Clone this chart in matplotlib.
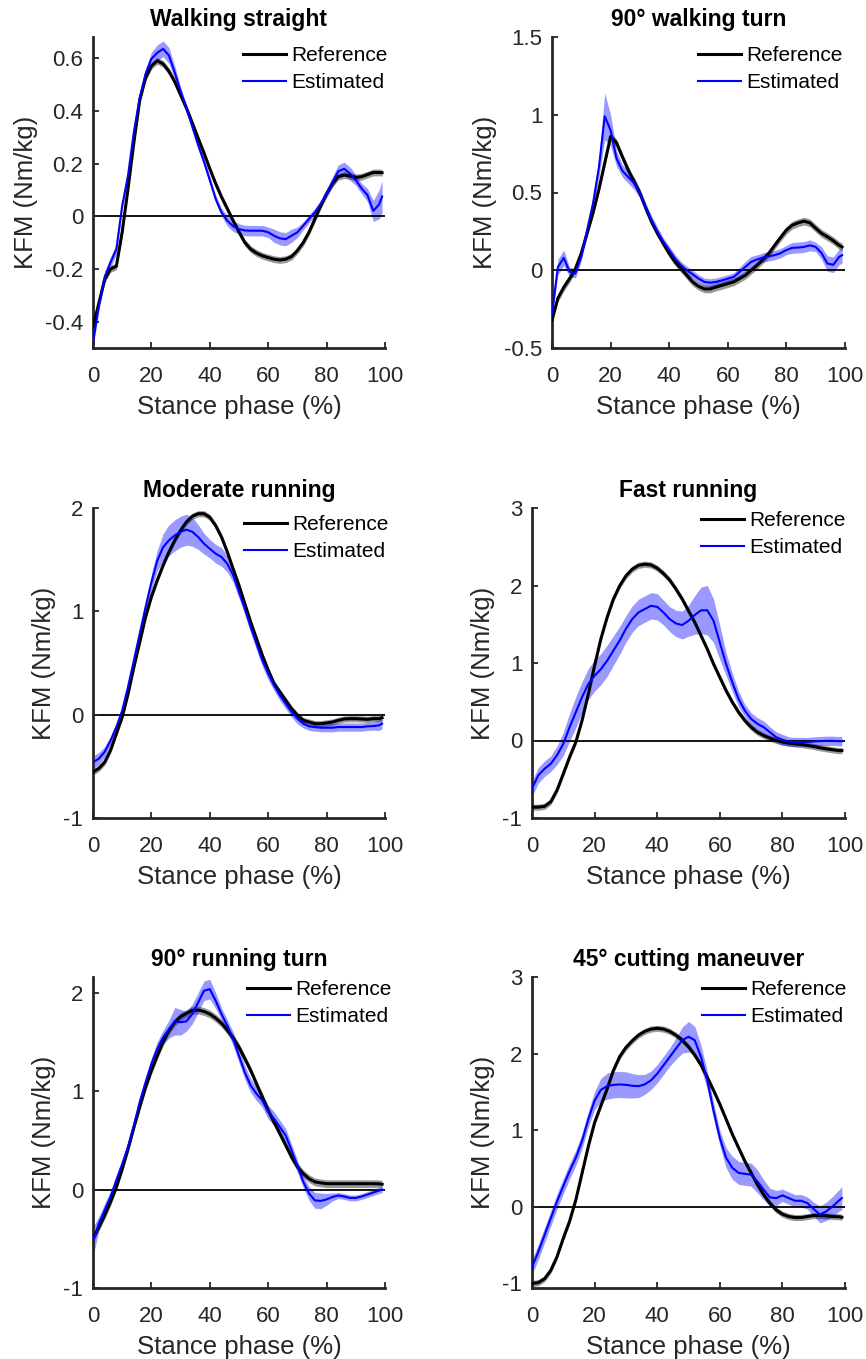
import numpy as np
import matplotlib
matplotlib.use("Agg")
import matplotlib.pyplot as plt

plt.rcParams['font.family'] = ['Liberation Sans', 'DejaVu Sans']
plt.rcParams['axes.unicode_minus'] = False

# stance phase sample points (%)
stance = np.append(np.arange(0, 100, 2), 99)

titles = ["Walking straight", "90° walking turn", "Moderate running",
          "Fast running", "90° running turn", "45° cutting maneuver"]

# --- Walking straight
walk_ref = [-0.42, -0.33, -0.24, -0.20, -0.19, -0.06, 0.105, 0.28, 0.44, 0.525,
            0.57, 0.59, 0.578, 0.55, 0.51, 0.46, 0.41, 0.354, 0.296, 0.24,
            0.18, 0.124, 0.073, 0.028, -0.017, -0.06, -0.10, -0.125, -0.14, -0.15,
            -0.157, -0.163, -0.166, -0.163, -0.153, -0.13, -0.10, -0.06, -0.01, 0.04,
            0.086, 0.124, 0.15, 0.156, 0.153, 0.147, 0.15, 0.158, 0.166, 0.166, 0.165]
walk_ref_sd = 0.013
walk_est = [-0.48, -0.34, -0.23, -0.175, -0.125, 0.04, 0.155, 0.32, 0.45, 0.54,
            0.597, 0.62, 0.635, 0.61, 0.545, 0.475, 0.41, 0.34, 0.27, 0.207,
            0.137, 0.066, 0.015, -0.017, -0.038, -0.049, -0.054, -0.055, -0.055, -0.055,
            -0.061, -0.074, -0.084, -0.087, -0.074, -0.061, -0.036, -0.01, 0.015, 0.047,
            0.086, 0.13, 0.17, 0.18, 0.162, 0.137, 0.105, 0.08, 0.02, 0.045, 0.075]
walk_est_sd = [0.02, 0.02, 0.02, 0.02, 0.02, 0.015, 0.015, 0.015, 0.015, 0.02,
               0.025, 0.03, 0.03, 0.03, 0.025, 0.015, 0.015, 0.015, 0.015, 0.015,
               0.015, 0.015, 0.015, 0.02, 0.02, 0.02, 0.02, 0.02, 0.02, 0.02,
               0.02, 0.025, 0.025, 0.025, 0.025, 0.02, 0.015, 0.015, 0.015, 0.015,
               0.015, 0.02, 0.025, 0.025, 0.025, 0.02, 0.02, 0.025, 0.04, 0.055, 0.06]

# --- 90 deg walking turn
wturn_ref = [-0.32, -0.18, -0.11, -0.054, 0.01, 0.11, 0.24, 0.37, 0.52, 0.69,
             0.86, 0.82, 0.73, 0.645, 0.57, 0.495, 0.40, 0.31, 0.237, 0.172,
             0.108, 0.054, 0.011, -0.032, -0.075, -0.103, -0.12, -0.12, -0.108, -0.097,
             -0.086, -0.075, -0.054, -0.032, 0.0, 0.032, 0.069, 0.108, 0.16, 0.21,
             0.258, 0.29, 0.305, 0.316, 0.305, 0.27, 0.237, 0.215, 0.19, 0.16, 0.15]
wturn_ref_sd = 0.025
wturn_est = [-0.28, 0.02, 0.08, -0.01, -0.02, 0.09, 0.26, 0.43, 0.66, 0.99,
             0.90, 0.72, 0.64, 0.60, 0.56, 0.495, 0.40, 0.32, 0.247, 0.183,
             0.13, 0.075, 0.032, 0.0, -0.026, -0.054, -0.075, -0.08, -0.075, -0.065,
             -0.054, -0.043, -0.011, 0.022, 0.054, 0.069, 0.082, 0.09, 0.097, 0.11,
             0.13, 0.144, 0.146, 0.15, 0.16, 0.15, 0.11, 0.043, 0.035, 0.086, 0.097]
wturn_est_sd = [0.03, 0.05, 0.05, 0.03, 0.03, 0.03, 0.03, 0.04, 0.06, 0.15,
                0.10, 0.05, 0.04, 0.04, 0.04, 0.03, 0.03, 0.03, 0.03, 0.025,
                0.025, 0.025, 0.025, 0.025, 0.025, 0.025, 0.025, 0.025, 0.025, 0.025,
                0.025, 0.025, 0.03, 0.035, 0.035, 0.03, 0.03, 0.03, 0.03, 0.03,
                0.03, 0.035, 0.035, 0.035, 0.035, 0.03, 0.04, 0.05, 0.05, 0.05, 0.05]

# --- Moderate running
modrun_ref = [-0.555, -0.52, -0.46, -0.345, -0.184, -0.023, 0.2, 0.46, 0.70, 0.945,
              1.14, 1.30, 1.445, 1.574, 1.687, 1.784, 1.865, 1.92, 1.945, 1.945,
              1.91, 1.83, 1.72, 1.574, 1.41, 1.25, 1.074, 0.897, 0.735, 0.574,
              0.43, 0.30, 0.22, 0.139, 0.058, -0.006, -0.055, -0.071, -0.087, -0.087,
              -0.08, -0.071, -0.055, -0.042, -0.039, -0.039, -0.042, -0.045, -0.039, -0.039, -0.03]
modrun_ref_sd = 0.03
modrun_est = [-0.46, -0.426, -0.36, -0.25, -0.12, 0.04, 0.27, 0.525, 0.784, 1.04,
              1.28, 1.49, 1.62, 1.687, 1.735, 1.77, 1.79, 1.77, 1.72, 1.655,
              1.606, 1.558, 1.526, 1.46, 1.35, 1.187, 1.026, 0.848, 0.687, 0.526,
              0.397, 0.284, 0.187, 0.106, 0.026, -0.039, -0.087, -0.113, -0.12, -0.126,
              -0.126, -0.126, -0.12, -0.12, -0.12, -0.12, -0.12, -0.113, -0.11, -0.103, -0.087]
modrun_est_sd = [0.06, 0.06, 0.05, 0.04, 0.04, 0.04, 0.04, 0.04, 0.05, 0.06,
                 0.08, 0.10, 0.13, 0.15, 0.15, 0.15, 0.15, 0.14, 0.12, 0.10,
                 0.09, 0.09, 0.09, 0.08, 0.07, 0.06, 0.06, 0.06, 0.06, 0.06,
                 0.06, 0.05, 0.05, 0.05, 0.05, 0.05, 0.04, 0.04, 0.04, 0.04,
                 0.04, 0.04, 0.04, 0.04, 0.04, 0.04, 0.04, 0.04, 0.04, 0.05, 0.05]

# --- Fast running
fastrun_ref = [-0.86, -0.86, -0.85, -0.79, -0.64, -0.43, -0.215, -0.02, 0.26, 0.60,
               0.966, 1.31, 1.59, 1.824, 1.996, 2.124, 2.21, 2.26, 2.275, 2.266,
               2.223, 2.155, 2.07, 1.953, 1.824, 1.674, 1.524, 1.352, 1.18, 0.987,
               0.815, 0.644, 0.494, 0.365, 0.258, 0.172, 0.107, 0.064, 0.03, 0.0,
               -0.02, -0.034, -0.043, -0.05, -0.064, -0.077, -0.094, -0.107, -0.12, -0.13, -0.13]
fastrun_ref_sd = 0.04
fastrun_est = [-0.62, -0.45, -0.365, -0.30, -0.19, -0.043, 0.17, 0.365, 0.56, 0.73,
               0.837, 0.92, 1.03, 1.16, 1.29, 1.44, 1.566, 1.652, 1.695, 1.738,
               1.725, 1.652, 1.566, 1.51, 1.49, 1.545, 1.62, 1.68, 1.68, 1.545,
               1.266, 0.987, 0.75, 0.536, 0.386, 0.279, 0.215, 0.172, 0.107, 0.043,
               0.009, -0.013, -0.02, -0.02, -0.02, -0.013, -0.009, -0.004, -0.004, -0.009, -0.009]
fastrun_est_sd = [0.10, 0.10, 0.10, 0.10, 0.12, 0.15, 0.18, 0.20, 0.20, 0.20,
                  0.20, 0.20, 0.20, 0.19, 0.18, 0.17, 0.17, 0.17, 0.17, 0.17,
                  0.17, 0.16, 0.16, 0.17, 0.18, 0.20, 0.25, 0.30, 0.32, 0.28,
                  0.22, 0.15, 0.12, 0.10, 0.08, 0.08, 0.08, 0.08, 0.07, 0.07,
                  0.07, 0.06, 0.06, 0.06, 0.06, 0.06, 0.06, 0.06, 0.06, 0.06, 0.06]

# --- 90 deg running turn
rturn_ref = [-0.50, -0.38, -0.26, -0.125, 0.027, 0.21, 0.415, 0.635, 0.84, 1.04,
             1.21, 1.36, 1.50, 1.615, 1.70, 1.757, 1.79, 1.82, 1.824, 1.81,
             1.784, 1.743, 1.69, 1.62, 1.54, 1.446, 1.33, 1.21, 1.074, 0.94,
             0.804, 0.686, 0.568, 0.45, 0.33, 0.23, 0.162, 0.11, 0.078, 0.068,
             0.06, 0.06, 0.06, 0.06, 0.06, 0.06, 0.06, 0.06, 0.06, 0.058, 0.054]
rturn_ref_sd = 0.04
rturn_est = [-0.53, -0.345, -0.21, -0.074, 0.095, 0.26, 0.43, 0.65, 0.89, 1.09,
             1.277, 1.43, 1.547, 1.63, 1.71, 1.70, 1.71, 1.784, 1.90, 2.02,
             2.037, 1.92, 1.784, 1.665, 1.53, 1.36, 1.19, 1.057, 0.973, 0.905,
             0.787, 0.72, 0.635, 0.55, 0.40, 0.24, 0.08, -0.04, -0.11, -0.115,
             -0.10, -0.075, -0.06, -0.07, -0.085, -0.085, -0.07, -0.05, -0.03, -0.01, 0.0]
rturn_est_sd = [0.15, 0.07, 0.07, 0.06, 0.05, 0.05, 0.05, 0.05, 0.05, 0.05,
                0.06, 0.07, 0.07, 0.09, 0.14, 0.13, 0.10, 0.10, 0.10, 0.10,
                0.10, 0.08, 0.06, 0.06, 0.07, 0.07, 0.07, 0.07, 0.07, 0.07,
                0.07, 0.07, 0.07, 0.07, 0.06, 0.06, 0.06, 0.07, 0.08, 0.08,
                0.06, 0.04, 0.03, 0.03, 0.03, 0.03, 0.03, 0.03, 0.03, 0.03, 0.03]

# --- 45 deg cutting maneuver
cut_ref = [-1.0, -0.99, -0.94, -0.83, -0.65, -0.41, -0.19, 0.09, 0.44, 0.79,
           1.10, 1.32, 1.54, 1.78, 1.96, 2.08, 2.167, 2.24, 2.29, 2.32,
           2.33, 2.32, 2.29, 2.24, 2.175, 2.09, 1.98, 1.85, 1.69, 1.52,
           1.34, 1.145, 0.947, 0.77, 0.596, 0.443, 0.29, 0.158, 0.048, -0.04,
           -0.096, -0.127, -0.14, -0.14, -0.127, -0.114, -0.114, -0.118, -0.127, -0.13, -0.136]
cut_ref_sd = 0.04
cut_est = [-0.785, -0.59, -0.37, -0.15, 0.07, 0.27, 0.465, 0.64, 0.86, 1.145,
           1.386, 1.526, 1.575, 1.592, 1.597, 1.592, 1.58, 1.575, 1.597, 1.65,
           1.737, 1.846, 1.956, 2.066, 2.175, 2.22, 2.175, 1.956, 1.65, 1.254,
           0.90, 0.64, 0.509, 0.443, 0.43, 0.42, 0.333, 0.224, 0.123, 0.114,
           0.149, 0.114, 0.079, 0.079, 0.048, -0.03, -0.10, -0.06, 0.004, 0.079, 0.114]
cut_est_sd = [0.10, 0.10, 0.10, 0.10, 0.10, 0.10, 0.10, 0.10, 0.10, 0.10,
              0.12, 0.15, 0.17, 0.17, 0.17, 0.17, 0.16, 0.15, 0.13, 0.12,
              0.12, 0.12, 0.12, 0.14, 0.17, 0.20, 0.18, 0.15, 0.12, 0.10,
              0.10, 0.13, 0.15, 0.15, 0.15, 0.15, 0.15, 0.13, 0.12, 0.10,
              0.08, 0.08, 0.08, 0.08, 0.08, 0.09, 0.11, 0.12, 0.13, 0.14, 0.15]

panels = [
    (walk_ref, walk_ref_sd, walk_est, walk_est_sd),
    (wturn_ref, wturn_ref_sd, wturn_est, wturn_est_sd),
    (modrun_ref, modrun_ref_sd, modrun_est, modrun_est_sd),
    (fastrun_ref, fastrun_ref_sd, fastrun_est, fastrun_est_sd),
    (rturn_ref, rturn_ref_sd, rturn_est, rturn_est_sd),
    (cut_ref, cut_ref_sd, cut_est, cut_est_sd),
]

ylims = [(-0.5, 0.68), (-0.5, 1.5), (-1, 2), (-1, 3), (-1, 2.16), (-1.06, 3)]
yticks = [[-0.4, -0.2, 0, 0.2, 0.4, 0.6],
          [-0.5, 0, 0.5, 1, 1.5],
          [-1, 0, 1, 2],
          [-1, 0, 1, 2, 3],
          [-1, 0, 1, 2],
          [-1, 0, 1, 2, 3]]

# layout in pixels: left, top, right, bottom
W, H = 866, 1359
boxes = [(93, 37, 385, 348), (552, 37, 845, 348),
         (93, 508, 385, 818), (532, 508, 845, 818),
         (93, 977, 385, 1288), (532, 977, 845, 1288)]
# legend top-right corner offset from the axes corner (px)
leg_shift = [(3, 9), (-2, 9), (4, 7), (1, 3), (7, 3), (2, 3)]

dark = (0.15, 0.15, 0.15)

fig = plt.figure(figsize=(W / 100, H / 100), dpi=100)

for i, (ref, ref_sd, est, est_sd) in enumerate(panels):
    l, t, r, b = boxes[i]
    ax = fig.add_axes([l / W, 1 - b / H, (r - l) / W, (b - t) / H])

    ref = np.array(ref)
    est = np.array(est)
    est_sd = np.array(est_sd)

    ax.axhline(0, color='k', lw=1.3, zorder=1.5)
    ax.fill_between(stance, ref - ref_sd, ref + ref_sd, color='k', alpha=0.4,
                    lw=0, zorder=1)
    ax.fill_between(stance, est - est_sd, est + est_sd, color='blue', alpha=0.4,
                    lw=0, zorder=1)
    ax.plot(stance, ref, color='k', lw=2.2, label='Reference', zorder=3)
    ax.plot(stance, est, color='blue', lw=1.5, label='Estimated', zorder=4)

    ax.set_xlim(0, 100)
    ax.set_ylim(*ylims[i])
    ax.set_xticks([0, 20, 40, 60, 80, 100])
    ax.set_yticks(yticks[i])
    ax.set_yticklabels([f"{v:g}" for v in yticks[i]])

    for side in ['top', 'right']:
        ax.spines[side].set_visible(False)
    for side in ['left', 'bottom']:
        ax.spines[side].set_color(dark)
        ax.spines[side].set_linewidth(2.0)

    ax.tick_params(direction='in', length=4, width=1.3, colors=dark,
                   labelsize=16)
    ax.tick_params(axis='x', pad=13)
    ax.tick_params(axis='y', pad=7)

    ax.set_xlabel('Stance phase (%)', fontsize=18.5, color=dark, labelpad=5.5)
    ax.set_ylabel('KFM (Nm/kg)', fontsize=18.5, color=dark, labelpad=5)
    ax.set_title(titles[i], fontsize=16.5, fontweight='bold', pad=8)

    dx, dy = leg_shift[i]
    ax.legend(loc='upper right', frameon=False, fontsize=15,
              handlelength=2.1, handletextpad=0.25, labelspacing=0.4,
              borderpad=0, borderaxespad=0,
              bbox_to_anchor=((r + dx) / W, 1 - (t + dy) / H),
              bbox_transform=fig.transFigure)

fig.savefig('out.png', dpi=100)
